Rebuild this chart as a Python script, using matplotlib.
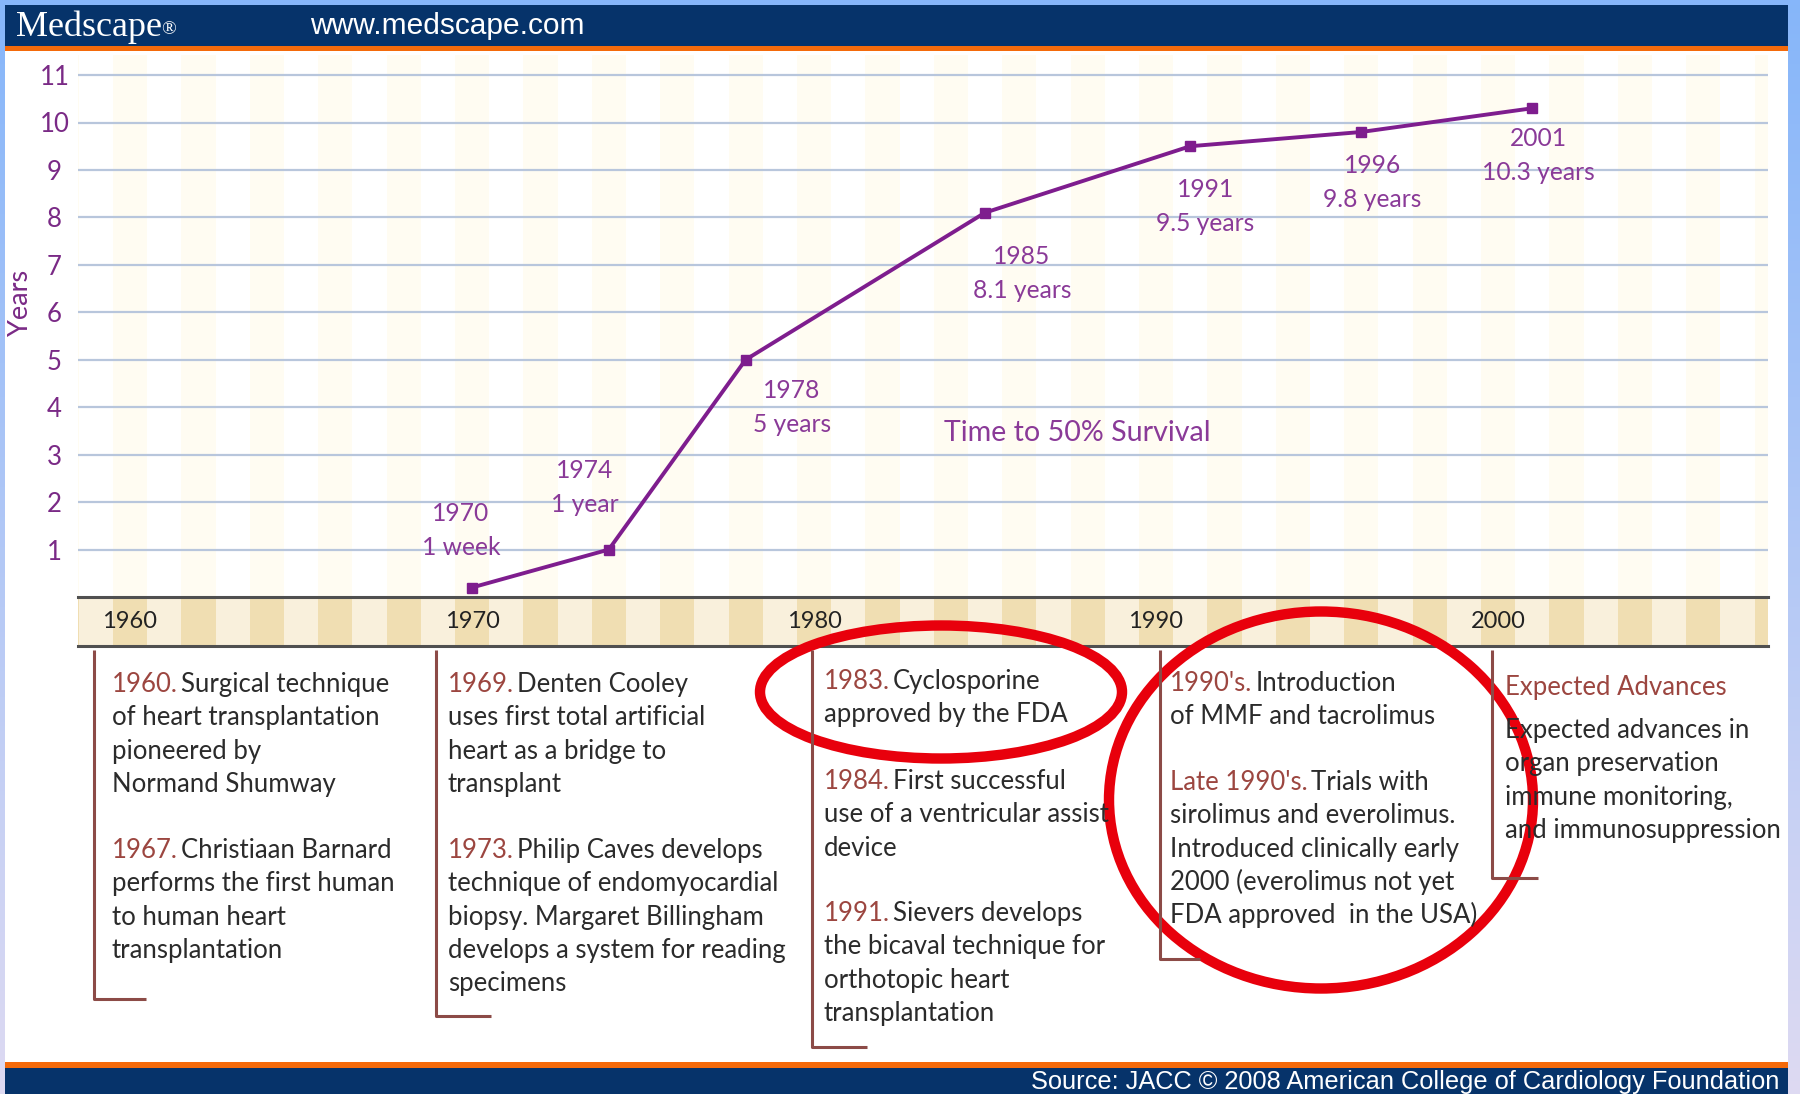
import matplotlib
matplotlib.use('Agg')
import matplotlib.pyplot as plt
import numpy as np
from matplotlib.patches import Ellipse, Rectangle
from matplotlib.colors import LinearSegmentedColormap

# ---- data -------------------------------------------------------------
years = [1970, 1974, 1978, 1985, 1991, 1996, 2001]
survival = [0.2, 1.0, 5.0, 8.1, 9.5, 9.8, 10.3]
survival_text = ['1 week', '1 year', '5 years', '8.1 years',
                 '9.5 years', '9.8 years', '10.3 years']
y_ticks = list(range(1, 12))
decades = [1960, 1970, 1980, 1990, 2000]

col_1960s = [('1960.', ['Surgical technique', 'of heart transplantation',
                        'pioneered by', 'Normand Shumway']),
             ('1967.', ['Christiaan Barnard', 'performs the first human',
                        'to human heart', 'transplantation'])]
col_1970s = [('1969.', ['Denten Cooley', 'uses first total artificial',
                        'heart as a bridge to', 'transplant']),
             ('1973.', ['Philip Caves develops', 'technique of endomyocardial',
                        'biopsy. Margaret Billingham',
                        'develops a system for reading', 'specimens'])]
col_1980s = [('1983.', ['Cyclosporine', 'approved by the FDA']),
             ('1984.', ['First successful', 'use of a ventricular assist',
                        'device']),
             ('1991.', ['Sievers develops', 'the bicaval technique for',
                        'orthotopic heart', 'transplantation'])]
col_1990s = [("1990's.", ['Introduction', 'of MMF and tacrolimus']),
             ("Late 1990's.", ['Trials with', 'sirolimus and everolimus.',
                               'Introduced clinically early',
                               '2000 (everolimus not yet',
                               'FDA approved  in the USA)'])]
col_future = [('Expected Advances', []),
              ('', ['Expected advances in', 'organ preservation',
                    'immune monitoring,', 'and immunosuppression'])]

# ---- layout (pixels of the 1800x1094 picture) --------------------------
W, H, DPI = 1800, 1094, 100
X1960, PX_YEAR = 130, 34.2
PLOT_L, PLOT_R = 78, 1768
PLOT_T, AXIS_Y, BAND_B = 55, 597, 646
PX_UNIT = 47.45
LINE = 33.3

NAVY = '#06336a'
ORANGE = '#f46a0a'
PURPLE = '#7e1d8e'
LABEL_PURPLE = '#8a3a98'
BROWN = '#9c4640'
BODY = '#2b2b2b'
RED = '#e8000c'
FONT = 'Lato'
BODY_SIZE = 18.5

label_offsets = [(-11, 74), (-24, 79), (46, -31), (37, -44),
                 (15, -43), (11, -34), (6, -30)]
value_drop = 34

fig = plt.figure(figsize=(W / DPI, H / DPI), dpi=DPI, facecolor='white')


def box(l, t, r, b):
    return [l / W, 1 - b / H, (r - l) / W, (b - t) / H]


# main chart
ax = fig.add_axes(box(PLOT_L, PLOT_T, PLOT_R, AXIS_Y))
x_lo = 1960 + (PLOT_L - X1960) / PX_YEAR
x_hi = 1960 + (PLOT_R - X1960) / PX_YEAR
ax.set_xlim(x_lo, x_hi)
ax.set_ylim(0, (AXIS_Y - PLOT_T) / PX_UNIT)
for yr in range(1958, 2010, 2):
    ax.axvspan(yr - 0.5, yr + 0.5, color='#fffcf2', lw=0, zorder=0.1)
ax.set_yticks(y_ticks)
ax.set_xticks([])
ax.grid(axis='y', color='#b8c6dc', lw=1.6, zorder=0.3)
ax.set_axisbelow(True)
ax.tick_params(axis='y', length=0, pad=17, labelcolor='#7a2a86',
               labelsize=18.5)
for t in ax.get_yticklabels():
    t.set_fontfamily(FONT)
    t.set_horizontalalignment('center')
for sp in ax.spines.values():
    sp.set_visible(False)

ax.plot(years, survival, color=PURPLE, lw=2.8, marker='s', ms=6.5,
        zorder=5, clip_on=False)
for yr, v, txt, (dx, dy) in zip(years, survival, survival_text, label_offsets):
    ax.annotate(str(yr), (yr, v), xytext=(dx, dy), textcoords='offset pixels',
                ha='center', va='center', fontsize=17.7, color=LABEL_PURPLE,
                family=FONT, zorder=6)
    ax.annotate(txt, (yr, v), xytext=(dx, dy - value_drop),
                textcoords='offset pixels', ha='center', va='center',
                fontsize=17.7, color=LABEL_PURPLE, family=FONT, zorder=6)

# timeline band
band = fig.add_axes(box(PLOT_L, AXIS_Y, PLOT_R, BAND_B), sharex=ax)
band.set_ylim(0, 1)
for yr in range(1958, 2010):
    band.axvspan(yr - 0.5, yr + 0.5, lw=0,
                 color='#f0deb2' if yr % 2 == 0 else '#f9f0dc')
for d in decades:
    band.text(d, 0.5, str(d), ha='center', va='center', fontsize=17,
              color='#222222', family=FONT)
band.set_yticks([])
band.tick_params(axis='x', bottom=False, labelbottom=False)
for side in ('left', 'right'):
    band.spines[side].set_visible(False)
for side in ('top', 'bottom'):
    band.spines[side].set_color('#505050')
    band.spines[side].set_linewidth(2.2)

# overlay canvas in picture pixels
cv = fig.add_axes([0, 0, 1, 1], zorder=10)
cv.set_facecolor('none')
cv.axis('off')

# header and footer
cv.add_patch(Rectangle((5, 5), 1783, 41, color=NAVY, lw=0))
cv.add_patch(Rectangle((5, 46), 1783, 5, color=ORANGE, lw=0))
cv.text(16, 27, 'Medscape', color='white', fontsize=26,
        family='Liberation Serif', va='center', ha='left')
cv.text(161, 30, '\u00ae', color='white', fontsize=14,
        family='Liberation Serif', va='center', ha='left')
cv.text(310, 26, 'www.medscape.com', color='white', fontsize=21.5,
        family='Liberation Sans', va='center', ha='left')
cv.add_patch(Rectangle((5, 1062), 1783, 6, color=ORANGE, lw=0))
cv.add_patch(Rectangle((5, 1068), 1783, 26, color=NAVY, lw=0))
cv.text(1779, 1082, 'Source: JACC \u00a9 2008 American College of Cardiology Foundation',
        color='white', fontsize=18.3, family='Liberation Sans',
        va='center', ha='right')

cv.text(20, 303, 'Years', rotation=90, color='#7a2a86', fontsize=19.5,
        family=FONT, ha='center', va='center')
cv.text(1077, 433, 'Time to 50% Survival', color=LABEL_PURPLE, fontsize=20.6,
        family=FONT, ha='center', va='center')

# event columns: bracket x, bracket bottom, foot end, text x, block tops
columns = [
    (col_1960s, 94, 999, 146, 112, [684, 850]),
    (col_1970s, 436, 1016, 491, 448, [684, 850]),
    (col_1980s, 812, 1047, 867, 824, [681, 781, 913]),
    (col_1990s, 1160, 959, 1200, 1170, [683, 782]),
    (col_future, 1492, 878, 1538, 1505, [687, 730]),
]
for blocks, bx, bb, foot, tx, tops in columns:
    cv.plot([bx, bx, foot], [650, bb, bb], color='#8c4b47', lw=2.2,
            solid_capstyle='butt')
    for (prefix, lines), top in zip(blocks, tops):
        base = top + 8
        rest = list(lines)
        if prefix:
            p = cv.text(tx, base, prefix, color=BROWN, fontsize=BODY_SIZE,
                        family=FONT, va='baseline', ha='left')
            if rest:
                cv.annotate(rest.pop(0), xy=(1, 0), xycoords=p,
                            xytext=(3, 0), textcoords='offset pixels',
                            va='bottom', ha='left', color=BODY,
                            fontsize=BODY_SIZE, family=FONT)
            base += LINE
        for ln in rest:
            cv.text(tx, base, ln, color=BODY, fontsize=BODY_SIZE, family=FONT,
                    va='baseline', ha='left')
            base += LINE

# red highlight ellipses
cv.add_patch(Ellipse((941, 692), 362, 133, fill=False, ec=RED, lw=7.5))
cv.add_patch(Ellipse((1321, 800), 424, 377, fill=False, ec=RED, lw=7.5))

# light blue frame
grad = np.linspace(0, 1, 256).reshape(-1, 1)
frame = LinearSegmentedColormap.from_list('frame', ['#86b6fa', '#dedaf2'])
cv.imshow(grad, extent=(0, 5, H, 0), cmap=frame, aspect='auto', zorder=20)
cv.imshow(grad, extent=(1788, W, H, 0), cmap=frame, aspect='auto', zorder=20)
cv.add_patch(Rectangle((0, 0), W, 5, color='#86b6fa', lw=0, zorder=20))

cv.set_xlim(0, W)
cv.set_ylim(H, 0)

fig.savefig('out.png', dpi=DPI)
